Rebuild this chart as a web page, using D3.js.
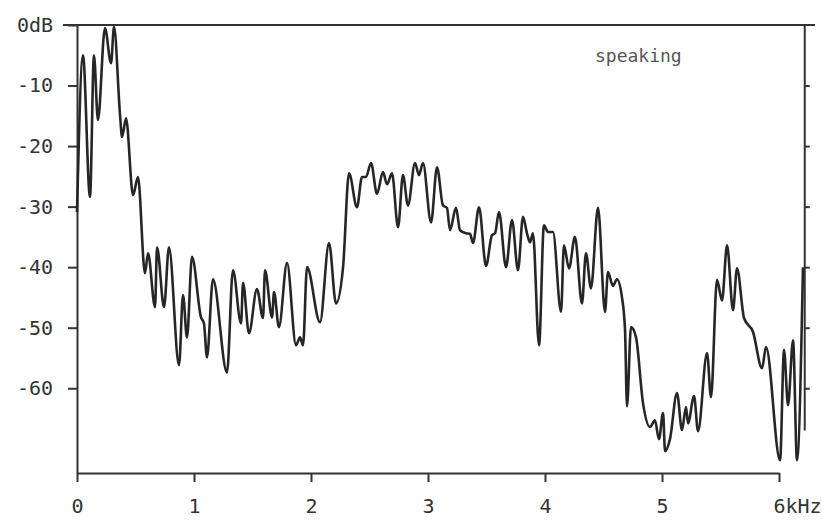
<!DOCTYPE html>
<html>
<head>
<meta charset="utf-8">
<script src="https://cdn.jsdelivr.net/npm/d3@7"></script>
<style>
  body { margin: 0; background: #fff; }
  svg text { font-family: "DejaVu Sans Mono", "Liberation Mono", monospace; }
</style>
</head>
<body>
<svg id="viz" width="822" height="526"></svg>
<script>
// spectrum: frequency in kHz, level in dB
let freq = [0, 0.051, 0.111, 0.145, 0.179, 0.239, 0.291, 0.316, 0.368, 0.385,
	0.419, 0.479, 0.521, 0.581, 0.607, 0.667, 0.684, 0.744, 0.786, 0.872,
	0.906, 0.940, 0.983, 1.060, 1.085, 1.111, 1.162, 1.282, 1.333, 1.402,
	1.419, 1.470, 1.538, 1.590, 1.607, 1.667, 1.684, 1.726, 1.795, 1.872,
	1.906, 1.932, 1.966, 2.077, 2.154, 2.214, 2.274, 2.325, 2.393, 2.436,
	2.470, 2.513, 2.564, 2.615, 2.650, 2.692, 2.744, 2.786, 2.829, 2.889,
	2.923, 2.957, 3.026, 3.077, 3.128, 3.162, 3.188, 3.239, 3.274, 3.325,
	3.359, 3.385, 3.436, 3.496, 3.547, 3.573, 3.607, 3.667, 3.718, 3.769,
	3.812, 3.846, 3.872, 3.897, 3.949, 3.991, 4.026, 4.068, 4.137, 4.162,
	4.205, 4.256, 4.316, 4.350, 4.393, 4.453, 4.513, 4.538, 4.581, 4.615,
	4.658, 4.684, 4.701, 4.735, 4.778, 4.838, 4.897, 4.940, 4.974, 5.009,
	5.026, 5.068, 5.128, 5.171, 5.205, 5.222, 5.274, 5.308, 5.385, 5.419,
	5.470, 5.513, 5.556, 5.607, 5.641, 5.701, 5.778, 5.855, 5.889, 6.009,
	6.043, 6.077, 6.120, 6.154, 6.205];
let level = [-30.9, -5.0, -28.4, -5.0, -15.7, -0.5, -6.3, -0.3, -14.9, -18.5,
	-15.4, -28.1, -25.1, -41.0, -37.7, -46.6, -36.7, -46.6, -36.7, -56.2,
	-44.6, -51.6, -38.3, -48.3, -49.3, -54.9, -42.0, -57.4, -40.5, -49.3,
	-42.6, -50.9, -43.6, -48.4, -40.5, -48.3, -44.1, -49.9, -39.3, -52.9,
	-51.6, -52.9, -40.0, -49.1, -36.0, -46.0, -40.0, -24.5, -30.1, -25.1,
	-25.1, -22.8, -27.9, -24.3, -26.3, -24.5, -33.4, -24.8, -29.8, -22.8,
	-24.8, -22.8, -32.6, -23.5, -29.8, -30.2, -33.9, -30.2, -33.9, -34.4,
	-34.5, -36.0, -30.1, -39.8, -34.7, -34.4, -30.9, -40.0, -32.2, -40.5,
	-31.7, -34.4, -35.9, -34.4, -52.9, -33.1, -34.2, -34.2, -47.4, -36.4,
	-40.2, -35.0, -46.0, -37.7, -43.5, -30.2, -47.4, -40.8, -43.1, -42.0,
	-45.0, -50.4, -63.0, -49.9, -51.6, -62.5, -66.4, -65.3, -68.4, -64.1,
	-70.4, -68.4, -60.8, -66.9, -63.1, -65.8, -61.3, -67.1, -54.2, -61.5,
	-42.1, -45.5, -36.4, -47.1, -40.2, -48.4, -50.7, -56.7, -53.2, -71.9,
	-53.7, -62.8, -52.1, -71.9, -40.0];

let dbTicks = [0, -10, -20, -30, -40, -50, -60];
let khzTicks = [0, 1, 2, 3, 4, 5, 6];
let caption = "speaking";

let ink = "#333";
let svg = d3.select("#viz");

let x = d3.scaleLinear().domain([0, 6]).range([77, 779]);
let y = d3.scaleLinear().domain([0, -74]).range([25, 473]);

// top frame line
svg.append("line")
	.attr("x1", 63).attr("x2", 815)
	.attr("y1", y(0)).attr("y2", y(0))
	.attr("stroke", ink).attr("stroke-width", 2);

// right frame with outward ticks
let rightAxis = d3.axisRight(y)
	.tickValues(dbTicks.slice(1))
	.tickSize(5)
	.tickSizeOuter(0)
	.tickFormat("");
svg.append("g")
	.attr("transform", "translate(" + x(6.22) + ",0)")
	.call(rightAxis)
	.call(g => g.select(".domain").attr("d", "M0," + y(0) + "V" + y(-67)));

let leftAxis = d3.axisLeft(y)
	.tickValues(dbTicks)
	.tickSize(9)
	.tickSizeOuter(0)
	.tickPadding(15)
	.tickFormat(d => d === 0 ? "0dB" : String(d));
svg.append("g")
	.attr("transform", "translate(" + x(0) + ",0)")
	.call(leftAxis);

let bottomAxis = d3.axisBottom(x)
	.tickValues(khzTicks)
	.tickSize(9)
	.tickSizeOuter(0)
	.tickPadding(17)
	.tickFormat(d => d === 6 ? "6kHz" : String(d));
svg.append("g")
	.attr("transform", "translate(0," + y(-74) + ")")
	.call(bottomAxis)
	.call(g => g.selectAll(".tick text")
		.filter(d => d === 6)
		.attr("text-anchor", "start")
		.attr("dx", "-0.3em"));

svg.selectAll(".domain, .tick line")
	.attr("stroke", ink)
	.attr("stroke-width", 2);
svg.selectAll(".tick text")
	.attr("fill", ink)
	.attr("font-size", 20)
	.attr("font-family", "DejaVu Sans Mono");

// the spectrum trace
let line = d3.line()
	.x((d, i) => x(freq[i]))
	.y(d => y(d))
	.curve(d3.curveMonotoneX);

svg.append("path")
	.datum(level)
	.attr("fill", "none")
	.attr("stroke", "#262626")
	.attr("stroke-width", 2.6)
	.attr("stroke-linejoin", "round")
	.attr("d", line);

svg.append("text")
	.attr("x", 595)
	.attr("y", 62)
	.attr("font-size", 18)
	.attr("fill", "#555")
	.text(caption);
</script>
</body>
</html>
